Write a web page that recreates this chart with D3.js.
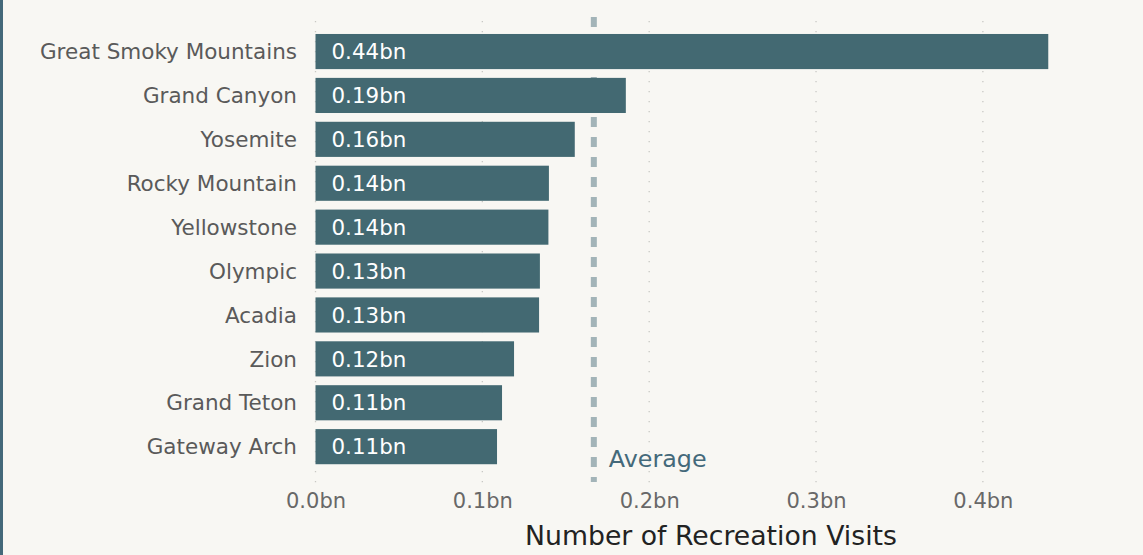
<!DOCTYPE html>
<html><head><meta charset="utf-8">
<script src="https://cdn.jsdelivr.net/npm/d3@7"></script>
<style>
html,body{margin:0;padding:0;background:#f8f7f3;}
svg{display:block;font-family:"DejaVu Sans",Verdana,sans-serif;}
</style></head>
<body>
<svg id="chart" width="1143" height="555"></svg>
<script>
const parks = ["Great Smoky Mountains","Grand Canyon","Yosemite","Rocky Mountain","Yellowstone","Olympic","Acadia","Zion","Grand Teton","Gateway Arch"];
const visits = [0.4392,0.1860,0.1554,0.1399,0.1396,0.1345,0.1340,0.1190,0.1118,0.1088];
const tickValues = [0,0.1,0.2,0.3,0.4];
const tickLabels = ["0.0bn","0.1bn","0.2bn","0.3bn","0.4bn"];

const svg = d3.select("#chart");
svg.append("rect").attr("x",0).attr("y",0).attr("width",1143).attr("height",555).attr("fill","#f8f7f3");
svg.append("rect").attr("x",0).attr("y",0).attr("width",3).attr("height",555).attr("fill","#44697a");

const x = d3.scaleLinear().domain([0,0.475]).range([315.5,1108]);
const y = d3.scaleBand().domain(parks).range([25.2,473]).paddingInner(0.2).paddingOuter(0.2);

// grid
svg.append("g").selectAll("line").data(tickValues).join("line")
  .attr("x1",d=>x(d)).attr("x2",d=>x(d)).attr("y1",21).attr("y2",484)
  .attr("stroke","#c8c8c4").attr("stroke-width",1.3).attr("stroke-dasharray","1.3,8.7");

// average line
const avg = d3.mean(visits);
svg.append("line").attr("x1",x(avg)).attr("x2",x(avg)).attr("y1",17).attr("y2",482)
  .attr("stroke","#a3b4b8").attr("stroke-width",6).attr("stroke-dasharray","10,10");

// bars
svg.append("g").selectAll("rect").data(parks).join("rect")
  .attr("x",x(0)).attr("y",d=>y(d)).attr("height",y.bandwidth())
  .attr("width",(d,i)=>x(visits[i])-x(0)).attr("fill","#436972");

// value labels
svg.append("g").selectAll("text").data(parks).join("text")
  .attr("x",x(0)+16).attr("y",d=>y(d)+y.bandwidth()/2).attr("dy","0.36em")
  .attr("fill","#ffffff").attr("font-size",21.4)
  .text((d,i)=>visits[i].toFixed(2)+"bn");

// category labels
svg.append("g").selectAll("text").data(parks).join("text")
  .attr("x",297).attr("y",d=>y(d)+y.bandwidth()/2).attr("dy","0.36em")
  .attr("text-anchor","end").attr("fill","#5a5a5a").attr("font-size",21.5)
  .text(d=>d);

// x axis tick labels
const ax = svg.append("g").attr("transform","translate(0,491)")
  .call(d3.axisBottom(x).tickValues(tickValues).tickFormat((d,i)=>tickLabels[i]).tickSize(0).tickPadding(2));
ax.select(".domain").remove();
ax.selectAll("text").attr("font-size",21).attr("fill","#686868").attr("font-family","DejaVu Sans");

// average label
svg.append("text").attr("x",x(avg)+15).attr("y",467).attr("fill","#44697a").attr("font-size",23.8).text("Average");

// axis title
svg.append("text").attr("x",711).attr("y",545).attr("text-anchor","middle").attr("fill","#222").attr("font-size",26.7).text("Number of Recreation Visits");
</script>
</body></html>
